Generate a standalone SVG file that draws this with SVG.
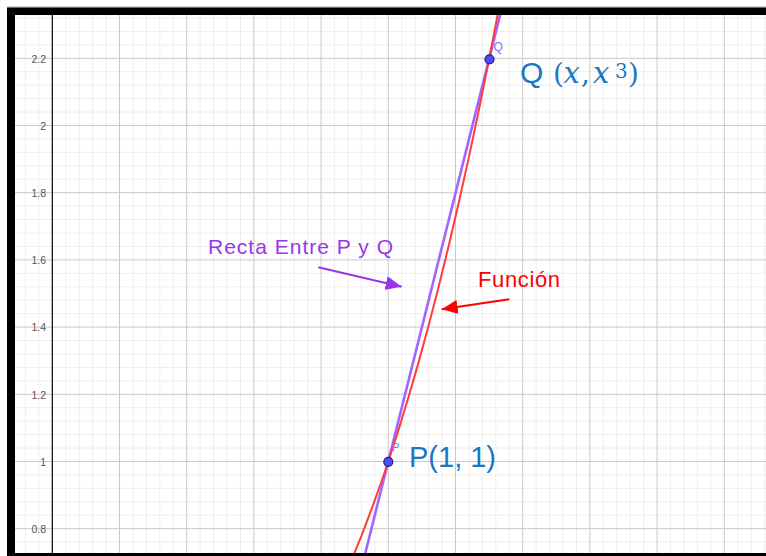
<svg xmlns="http://www.w3.org/2000/svg" width="766" height="556" viewBox="0 0 766 556">
<style>
.minor{stroke:#eeeeee;stroke-width:1;fill:none}
.major{stroke:#c9c9c9;stroke-width:1;fill:none}
.tick{font-family:"Liberation Sans",Arial,sans-serif;font-size:10.5px;fill:#555;text-anchor:end}
.blue{fill:#1a78c2}
.sans{font-family:"Liberation Sans",Arial,sans-serif}
.math{font-family:"DejaVu Serif","Liberation Serif",serif}
.pt{fill:#4d4dff;stroke:#1f1f7a;stroke-width:1.2}
.ptlabel{font-family:"Liberation Sans",Arial,sans-serif;fill:#7272ff}
</style>
<defs>
<clipPath id="plot"><rect x="15" y="15" width="751" height="538"/></clipPath>
<marker id="headPurple" markerUnits="userSpaceOnUse" markerWidth="16" markerHeight="14" refX="16" refY="7" orient="auto"><path d="M0,0 L16,7 L0,14 z" fill="#9a35e8"/></marker>
<marker id="headRed" markerUnits="userSpaceOnUse" markerWidth="16" markerHeight="14" refX="16" refY="7" orient="auto"><path d="M0,0 L16,7 L0,14 z" fill="#ff0000"/></marker>
</defs>
<rect x="0" y="0" width="766" height="556" fill="#ffffff"/>
<line x1="7" y1="7" x2="766" y2="7" stroke="#b0b0b0" stroke-width="1"/>
<rect x="7" y="7.5" width="759" height="548.5" fill="#000000"/>
<rect x="15" y="15" width="751" height="538" fill="#ffffff"/>
<g id="grid" clip-path="url(#plot)">
<path class="minor" d="M25.42 15V553M38.86 15V553M65.74 15V553M79.18 15V553M92.62 15V553M106.06 15V553M132.94 15V553M146.38 15V553M159.82 15V553M173.26 15V553M200.14 15V553M213.58 15V553M227.02 15V553M240.46 15V553M267.34 15V553M280.78 15V553M294.22 15V553M307.66 15V553M334.54 15V553M347.98 15V553M361.42 15V553M374.86 15V553M401.74 15V553M415.18 15V553M428.62 15V553M442.06 15V553M468.94 15V553M482.38 15V553M495.82 15V553M509.26 15V553M536.14 15V553M549.58 15V553M563.02 15V553M576.46 15V553M603.34 15V553M616.78 15V553M630.22 15V553M643.66 15V553M670.54 15V553M683.98 15V553M697.42 15V553M710.86 15V553M737.74 15V553M751.18 15V553M764.62 15V553"/>
<path class="minor" d="M15 17.98H766M15 31.42H766M15 44.86H766M15 71.74H766M15 85.18H766M15 98.62H766M15 112.06H766M15 138.94H766M15 152.38H766M15 165.82H766M15 179.26H766M15 206.14H766M15 219.58H766M15 233.02H766M15 246.46H766M15 273.34H766M15 286.78H766M15 300.22H766M15 313.66H766M15 340.54H766M15 353.98H766M15 367.42H766M15 380.86H766M15 407.74H766M15 421.18H766M15 434.62H766M15 448.06H766M15 474.94H766M15 488.38H766M15 501.82H766M15 515.26H766M15 542.14H766"/>
<path class="major" d="M119.5 15V553M186.7 15V553M253.9 15V553M321.1 15V553M388.3 15V553M455.5 15V553M522.7 15V553M589.9 15V553M657.1 15V553M724.3 15V553"/>
<path class="major" d="M15 58.3H766M15 125.5H766M15 192.7H766M15 259.9H766M15 327.1H766M15 394.3H766M15 461.5H766M15 528.7H766"/>
</g>
<g id="axis">
<line x1="52.3" y1="15" x2="52.3" y2="553" stroke="#000" stroke-width="1.2"/>
<text class="tick" x="46" y="62.5">2.2</text>
<text class="tick" x="46" y="129.7">2</text>
<text class="tick" x="46" y="196.9">1.8</text>
<text class="tick" x="46" y="264.1">1.6</text>
<text class="tick" x="46" y="331.3">1.4</text>
<text class="tick" x="46" y="398.5">1.2</text>
<text class="tick" x="46" y="465.7">1</text>
<text class="tick" x="46" y="532.9">0.8</text>
</g>
<g id="curves" clip-path="url(#plot)">
<line id="secant" x1="364.6" y1="556" x2="500.1" y2="15" stroke="#a066ff" stroke-width="2.6"/>
<polyline id="function" fill="none" stroke="#ff3b3b" stroke-width="2" points="351.34,560.63 361.42,535.86 371.5,509.42 381.58,481.26 388.3,461.5 398.38,430.34 408.46,397.32 418.54,362.37 428.62,325.44 438.7,286.49 448.78,245.44 458.86,202.26 468.94,156.87 479.02,109.24 489.1,59.31 499.18,7.01"/>
</g>
<g id="pointQ">
<circle class="pt" cx="489.5" cy="59.3" r="4.5"/>
<text class="ptlabel" x="493.5" y="50.5" font-size="12">Q</text>
</g>
<g id="pointP">
<circle class="pt" cx="388.3" cy="461.8" r="4.5"/>
<text class="ptlabel" x="392" y="451" font-size="11">P</text>
</g>
<g id="labelQ">
<text class="blue sans" x="520" y="82.5" font-size="30">Q</text>
<text class="blue math" x="553" y="82.5" font-size="28">(</text>
<text class="blue math" x="563.5" y="82.5" font-size="29" font-style="italic">x</text>
<text class="blue math" x="581" y="82.5" font-size="28">,</text>
<text class="blue math" x="593" y="82.5" font-size="29" font-style="italic">x</text>
<text class="blue math" x="615" y="77.5" font-size="20">3</text>
<text class="blue math" x="628" y="82.5" font-size="28">)</text>
</g>
<g id="labelP">
<text class="blue sans" x="409" y="467" font-size="29">P(1, 1)</text>
</g>
<g id="labelRecta">
<text class="sans" x="208" y="254" font-size="21" fill="#9a35e8" textLength="185" lengthAdjust="spacing">Recta Entre P y Q</text>
</g>
<g id="labelFuncion">
<text class="sans" x="478" y="286.5" font-size="22" fill="#ff0000" textLength="82" lengthAdjust="spacing">Función</text>
</g>
<g id="connectors">
<line x1="318.3" y1="267.3" x2="401.7" y2="286.7" stroke="#9a35e8" stroke-width="2" marker-end="url(#headPurple)"/>
<line x1="509.3" y1="299.3" x2="441.7" y2="309.3" stroke="#ff0000" stroke-width="2" marker-end="url(#headRed)"/>
</g>
</svg>
